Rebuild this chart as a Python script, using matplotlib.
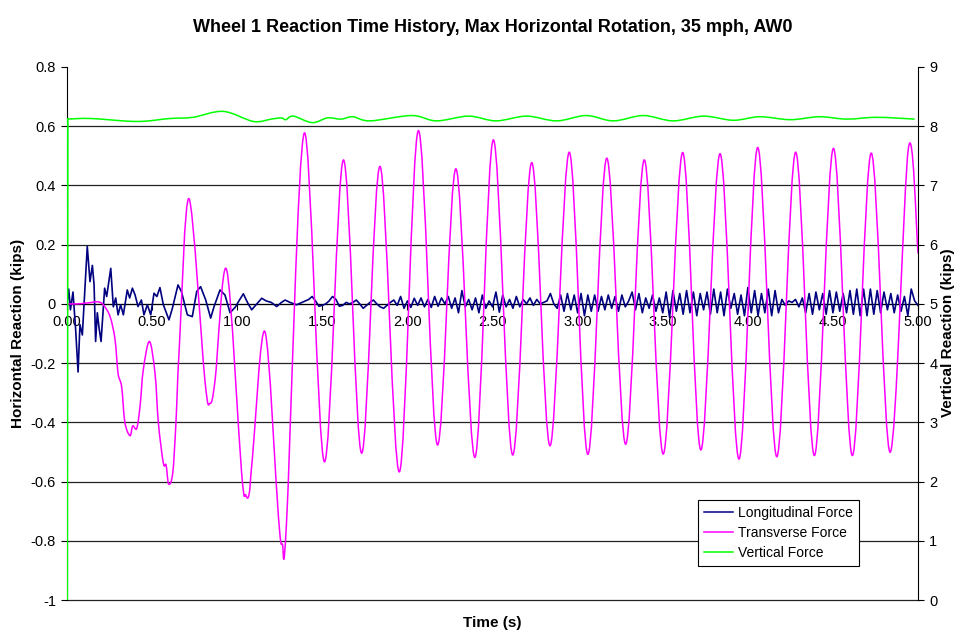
import numpy as np
import matplotlib.pyplot as plt
from matplotlib.path import Path
from matplotlib.patches import PathPatch
from matplotlib.lines import Line2D
from matplotlib.ticker import FuncFormatter, FormatStrFormatter

plt.rcParams['font.family'] = ['Liberation Sans', 'DejaVu Sans']
plt.rcParams['axes.unicode_minus'] = False

# ---- data ----
# longitudinal force (kips), irregular start
lon_t_start = [0.000, 0.010, 0.020, 0.035, 0.050, 0.065, 0.076, 0.090, 0.119, 0.135,
               0.149, 0.159, 0.168, 0.178, 0.188, 0.200, 0.221, 0.233, 0.257, 0.272,
               0.286, 0.300, 0.315, 0.331, 0.354, 0.368, 0.384, 0.400, 0.417, 0.437,
               0.452, 0.472, 0.492, 0.511, 0.528, 0.546, 0.566, 0.599, 0.619, 0.652,
               0.672, 0.707, 0.736, 0.762, 0.785, 0.815, 0.844, 0.864, 0.899, 0.928,
               0.958, 0.990, 1.010, 1.036, 1.060, 1.085, 1.115, 1.144, 1.170, 1.200,
               1.232, 1.260, 1.281, 1.310, 1.349, 1.380]
lon_v_start = [0.000, 0.050, -0.020, 0.040, -0.080, -0.230, -0.070, -0.105, 0.194, 0.075,
               0.130, 0.064, -0.127, -0.030, -0.080, -0.127, 0.053, 0.025, 0.120, -0.010,
               0.020, -0.037, -0.003, -0.037, 0.047, 0.020, 0.053, 0.030, -0.009, 0.013,
               -0.037, -0.003, -0.037, 0.036, 0.025, 0.055, -0.003, -0.054, -0.015, 0.064,
               0.042, -0.037, -0.043, 0.042, 0.058, 0.013, -0.048, -0.009, 0.047, 0.030,
               -0.030, -0.010, 0.010, 0.034, 0.005, -0.020, 0.000, 0.019, 0.010, 0.005,
               -0.009, 0.005, 0.013, 0.005, -0.003, 0.005]
# longitudinal force, read every 0.02 s from 1.40 s to 5.00 s
lon_v_rest = [
    0.010, 0.015, 0.025, 0.010, -0.008, -0.005, 0.000, 0.010, 0.025, 0.015,
    -0.008, -0.005, 0.005, 0.000, 0.005, 0.013, 0.000, -0.015, -0.005, 0.005,
    0.013, 0.000, -0.010, -0.015, -0.005, 0.005, 0.013, -0.005, 0.025, -0.015,
    0.010, -0.012, 0.019, -0.005, 0.020, -0.010, 0.015, -0.012, 0.025, -0.008,
    0.020, 0.000, 0.025, -0.015, 0.020, -0.030, 0.045, -0.010, 0.015, -0.020,
    0.020, -0.030, 0.030, -0.015, 0.010, -0.010, 0.040, -0.028, 0.030, -0.010,
    0.015, -0.015, 0.025, -0.010, 0.015, 0.000, 0.020, -0.005, 0.015, 0.000,
    0.005, 0.010, 0.035, 0.000, -0.015, 0.030, -0.025, 0.035, -0.020, 0.030,
    -0.030, 0.035, -0.040, 0.030, -0.025, 0.030, -0.025, 0.025, -0.020, 0.030,
    -0.015, 0.025, -0.025, 0.030, -0.010, 0.010, 0.040, -0.020, 0.035, -0.030,
    0.020, -0.015, 0.030, -0.025, 0.020, -0.030, 0.040, -0.045, 0.045, -0.025,
    0.035, -0.035, 0.045, -0.030, 0.040, -0.040, 0.035, -0.020, 0.040, -0.035,
    0.050, -0.030, 0.040, -0.040, 0.050, -0.015, 0.035, -0.035, 0.030, -0.040,
    0.055, -0.030, 0.045, -0.040, 0.035, -0.030, 0.050, -0.040, 0.045, -0.030,
    0.015, -0.005, 0.010, 0.005, 0.015, -0.010, 0.020, -0.030, 0.035, -0.035,
    0.040, -0.020, 0.035, -0.035, 0.045, -0.030, 0.040, -0.025, 0.035, -0.030,
    0.045, -0.035, 0.050, -0.040, 0.050, -0.040, 0.050, -0.035, 0.045, -0.030,
    0.040, -0.020, 0.035, -0.030, 0.030, -0.025, 0.025, -0.040, 0.050, 0.010,
    -0.005]
lon_t_rest = np.round(np.linspace(1.40, 5.00, len(lon_v_rest)), 3)

# transverse force (kips): irregular start, then peaks and troughs
trans_t_start = [0.000, 0.060, 0.120, 0.180, 0.213, 0.253, 0.282, 0.300, 0.321, 0.340,
                 0.370, 0.386, 0.410, 0.430, 0.448, 0.484, 0.517, 0.537, 0.566, 0.582,
                 0.597, 0.621, 0.640, 0.660, 0.717, 0.810, 0.840, 0.870, 0.938, 1.026,
                 1.050, 1.070, 1.090, 1.163, 1.242, 1.265, 1.290]
trans_v_start = [0.000, 0.000, 0.003, 0.007, -0.003, -0.043, -0.120, -0.235, -0.280, -0.400,
                 -0.445, -0.412, -0.420, -0.340, -0.223, -0.127, -0.234, -0.403, -0.538, -0.544,
                 -0.608, -0.572, -0.400, -0.144, 0.355, -0.257, -0.336, -0.257, 0.115, -0.572,
                 -0.645, -0.642, -0.516, -0.094, -0.718, -0.811, -0.735]
peak_t = [1.394, 1.624, 1.839, 2.064, 2.285, 2.505, 2.730, 2.951, 3.171, 3.392,
          3.617, 3.837, 4.058, 4.281, 4.503, 4.725, 4.943]
peak_v = [0.577, 0.486, 0.464, 0.585, 0.456, 0.554, 0.477, 0.512, 0.492, 0.486,
          0.511, 0.507, 0.528, 0.512, 0.525, 0.509, 0.524]
trough_t = [1.512, 1.731, 1.953, 2.176, 2.397, 2.618, 2.838, 3.060, 3.282, 3.503,
            3.724, 3.948, 4.170, 4.391, 4.614, 4.836]
trough_v = [-0.533, -0.504, -0.567, -0.476, -0.518, -0.510, -0.479, -0.508, -0.474, -0.507,
            -0.493, -0.524, -0.516, -0.512, -0.512, -0.501]
trans_end = (5.000, 0.170)

# vertical force (kips, right axis)
vert_t = [0.000, 0.003, 0.140, 0.410, 0.605, 0.740, 0.918, 1.095, 1.200, 1.260,
          1.285, 1.330, 1.440, 1.530, 1.610, 1.680, 1.780, 2.025, 2.170, 2.360,
          2.520, 2.700, 2.877, 3.050, 3.210, 3.386, 3.560, 3.740, 3.915, 4.070,
          4.250, 4.420, 4.580, 4.757, 4.980]
vert_v = [0.00, 8.12, 8.13, 8.08, 8.13, 8.15, 8.25, 8.08, 8.12, 8.14,
          8.11, 8.17, 8.06, 8.14, 8.12, 8.16, 8.09, 8.18, 8.09, 8.17,
          8.09, 8.17, 8.09, 8.18, 8.09, 8.18, 8.09, 8.17, 8.10, 8.16,
          8.11, 8.16, 8.12, 8.15, 8.12]

x_ticks = np.arange(0, 5.01, 0.5)
left_ticks = np.round(np.arange(-1.0, 0.81, 0.2), 1)
right_ticks = np.arange(0, 10, 1)


def smooth_path(xs, ys):
    # smooth curve through the read points (Catmull-Rom as cubic Bezier)
    p = np.column_stack([xs, ys]).astype(float)
    n = len(p)
    verts = [p[0]]
    codes = [Path.MOVETO]
    for i in range(n - 1):
        p0 = p[max(i - 1, 0)]
        p1 = p[i]
        p2 = p[i + 1]
        p3 = p[min(i + 2, n - 1)]
        verts += [p1 + (p2 - p0) / 6, p2 - (p3 - p1) / 6, p2]
        codes += [Path.CURVE4] * 3
    return Path(verts, codes)


def fmt_left(v, pos):
    v = round(v, 1)
    if v == 0:
        return '0'
    return f'{v:g}'


lon_t = np.concatenate([lon_t_start, lon_t_rest])
lon_v = np.concatenate([lon_v_start, lon_v_rest])

ext = sorted(zip(peak_t + trough_t, peak_v + trough_v))
trans_t = list(trans_t_start) + [e[0] for e in ext] + [trans_end[0]]
trans_v = list(trans_v_start) + [e[1] for e in ext] + [trans_end[1]]

c_lon = '#000080'
c_trans = '#FF00FF'
c_vert = '#00FF00'

fig = plt.figure(figsize=(9.56, 6.33), dpi=100)
ax = fig.add_axes([0.0701, 0.0521, 0.8902, 0.8421])
ax2 = ax.twinx()

ax.set_xlim(0, 5)
ax.set_ylim(-1, 0.8)
ax2.set_ylim(0, 9)

# grid (no line at the top edge)
for v in left_ticks[:-1]:
    ax.axhline(v, color='#222222', lw=0.9, zorder=1, clip_on=False)

ax.plot(lon_t, lon_v, color=c_lon, lw=1.2, zorder=3)
ax.add_patch(PathPatch(smooth_path(trans_t, trans_v), fill=False,
                       edgecolor=c_trans, lw=1.1, zorder=4))
ax2.plot(vert_t[:2], vert_v[:2], color=c_vert, lw=1.6, zorder=3)
ax2.add_patch(PathPatch(smooth_path(vert_t[1:], vert_v[1:]), fill=False,
                        edgecolor=c_vert, lw=1.1, zorder=3))

# axes styling
ax.spines['top'].set_visible(False)
ax.spines['right'].set_visible(False)
ax.spines['bottom'].set_position(('data', 0))
ax.spines['bottom'].set_color('black')
for s in ['top', 'left', 'bottom']:
    ax2.spines[s].set_visible(False)
ax2.spines['right'].set_color('black')

ax.set_xticks(x_ticks)
ax.xaxis.set_major_formatter(FormatStrFormatter('%.2f'))
ax.set_yticks(left_ticks)
ax.yaxis.set_major_formatter(FuncFormatter(fmt_left))
ax2.set_yticks(right_ticks)
ax.tick_params(axis='x', length=4, labelsize=10.5, pad=4)
ax.tick_params(axis='y', length=4, labelsize=10.5, pad=4)
ax2.tick_params(axis='y', length=4, labelsize=10.5, pad=4)

fig.text(0.515, 1 - 27 / 633, 'Wheel 1 Reaction Time History, Max Horizontal Rotation, 35 mph, AW0',
         ha='center', va='center', fontsize=13, fontweight='bold')
fig.text(0.515, 1 - 623 / 633, 'Time (s)', ha='center', va='center',
         fontsize=11, fontweight='bold')
fig.text(18 / 956, 1 - 333 / 633, 'Horizontal Reaction (kips)', ha='center', va='center',
         rotation=90, fontsize=11, fontweight='bold')
fig.text(948 / 956, 1 - 333 / 633, 'Vertical Reaction (kips)', ha='center', va='center',
         rotation=90, fontsize=11, fontweight='bold')

handles = [Line2D([], [], color=c_lon, lw=1.1),
           Line2D([], [], color=c_trans, lw=1.1),
           Line2D([], [], color=c_vert, lw=1.1)]
leg = ax2.legend(handles, ['Longitudinal Force', 'Transverse Force', 'Vertical Force'],
                 loc='upper left', bbox_to_anchor=(698 / 956, 1 - 500 / 633),
                 bbox_transform=fig.transFigure, borderaxespad=0, fontsize=10,
                 frameon=True, fancybox=False, framealpha=1, edgecolor='black',
                 handlelength=2.1, handletextpad=0.4, labelspacing=0.45,
                 borderpad=0.4)
leg.get_frame().set_linewidth(0.8)
leg.set_zorder(10)

fig.savefig('out.png', dpi=100)
